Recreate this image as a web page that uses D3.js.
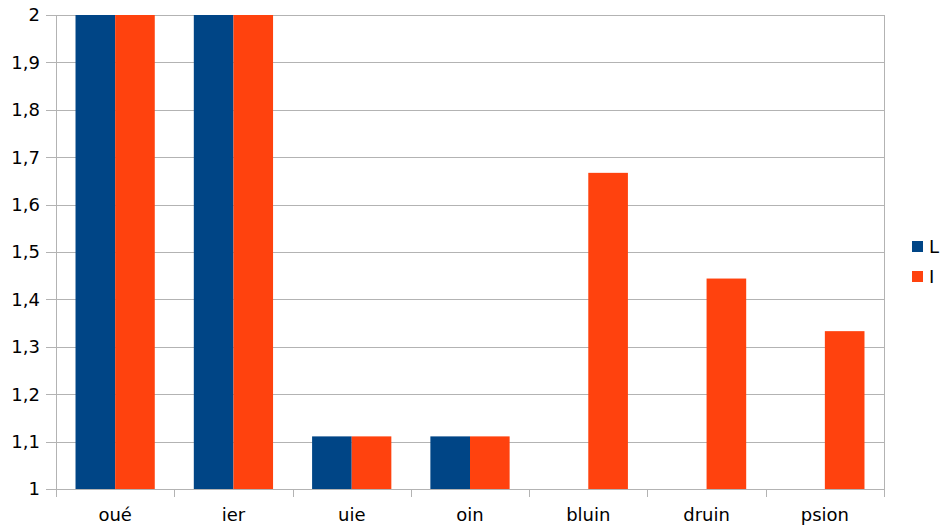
<!DOCTYPE html>
<html>
<head>
<meta charset="utf-8">
<script src="https://cdn.jsdelivr.net/npm/d3@7"></script>
<style>
  body { margin: 0; background: #fff; }
  text { font-family: "DejaVu Sans", sans-serif; fill: #000; }
</style>
</head>
<body>
<svg id="chart" width="940" height="529"></svg>
<script>
const categories = ["oué", "ier", "uie", "oin", "bluin", "druin", "psion"];
const seriesNames = ["L", "I"];
const valuesL = [2, 2, 1.111, 1.111, 1, 1, 1];
const valuesI = [2, 2, 1.111, 1.111, 1.667, 1.444, 1.333];
const yTicks = [1, 1.1, 1.2, 1.3, 1.4, 1.5, 1.6, 1.7, 1.8, 1.9, 2];
const colors = ["#004586", "#ff420e"];

const margin = { top: 15, right: 56, bottom: 40, left: 56 };
const width = 940, height = 529;
const plotW = 884 - margin.left;
const plotH = 489 - margin.top;
const fontSize = 18;

const svg = d3.select("#chart");
const g = svg.append("g").attr("transform", `translate(${margin.left},${margin.top})`);

const x = d3.scaleBand().domain(categories).range([0, plotW]).paddingInner(0.33).paddingOuter(0.165);
const xSub = d3.scaleBand().domain(seriesNames).range([0, x.bandwidth()]);
const y = d3.scaleLinear().domain([1, 2]).range([plotH, 0]);

// grid
g.append("g").selectAll("line").data(yTicks).join("line")
  .attr("x1", -10).attr("x2", plotW)
  .attr("y1", d => Math.round(y(d)) + 0.5).attr("y2", d => Math.round(y(d)) + 0.5)
  .attr("stroke", "#b3b3b3").attr("stroke-width", 1);

// category separators / ticks
const step = plotW / categories.length;
g.append("g").selectAll("line").data(d3.range(categories.length + 1)).join("line")
  .attr("x1", i => Math.round(i * step) + 0.5).attr("x2", i => Math.round(i * step) + 0.5)
  .attr("y1", d => d === 0 || d === categories.length ? 0 : plotH)
  .attr("y2", plotH + 8)
  .attr("stroke", "#b3b3b3").attr("stroke-width", 1);

// bars
const rows = categories.map((c, i) => ({ cat: c, vals: [valuesL[i], valuesI[i]] }));
const grp = g.append("g").selectAll("g").data(rows).join("g")
  .attr("transform", d => `translate(${x(d.cat)},0)`);
grp.selectAll("rect").data(d => d.vals.map((v, k) => ({ k, v })).filter(e => e.v > 1)).join("rect")
  .attr("x", d => xSub(seriesNames[d.k]))
  .attr("width", xSub.bandwidth())
  .attr("y", d => y(d.v))
  .attr("height", d => y(1) - y(d.v))
  .attr("fill", d => colors[d.k]);

// y labels
g.append("g").selectAll("text").data(yTicks).join("text")
  .attr("x", -16).attr("y", d => y(d)).attr("dy", "0.36em")
  .attr("text-anchor", "end").attr("font-size", fontSize)
  .text(d => d3.format(".1~f")(d).replace(".", ","));

// x labels
g.append("g").selectAll("text").data(categories).join("text")
  .attr("x", d => x(d) + x.bandwidth() / 2).attr("y", plotH + 32)
  .attr("text-anchor", "middle").attr("font-size", fontSize)
  .text(d => d);

// legend
const leg = svg.append("g").attr("transform", "translate(912,241)");
seriesNames.forEach((s, i) => {
  leg.append("rect").attr("x", 0).attr("y", i * 30).attr("width", 11).attr("height", 11).attr("fill", colors[i]);
  leg.append("text").attr("x", 17).attr("y", i * 30 + 6).attr("dy", "0.36em").attr("font-size", fontSize).text(s);
});
</script>
</body>
</html>
